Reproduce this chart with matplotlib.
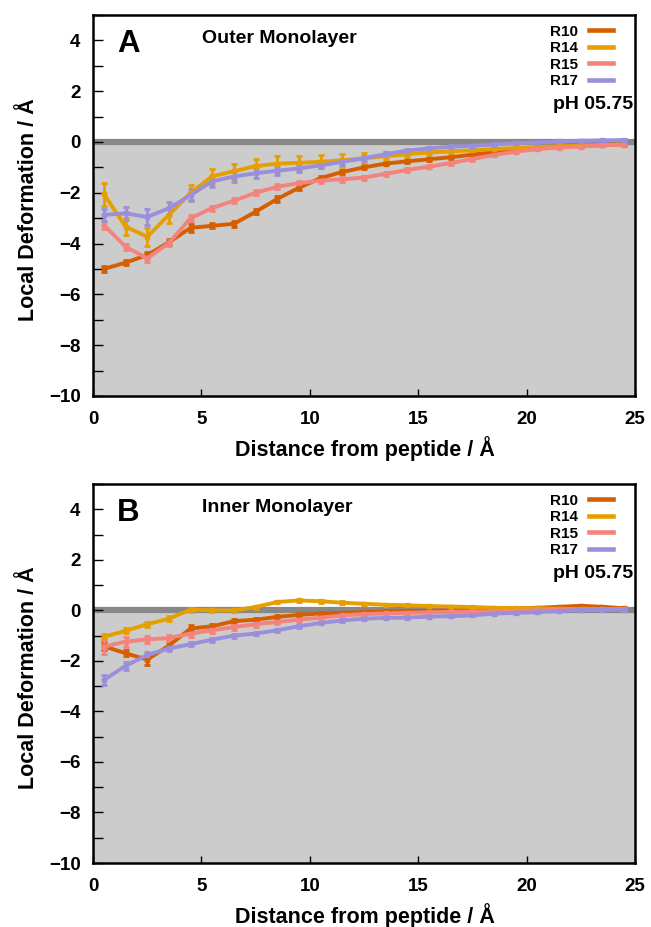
import numpy as np
import matplotlib
matplotlib.use("Agg")
import matplotlib.pyplot as plt
from matplotlib.ticker import MultipleLocator

plt.rcParams['font.family'] = ['Liberation Sans', 'DejaVu Sans']
plt.rcParams['font.weight'] = 'bold'

x = np.arange(0.5, 25.0, 1.0)
series_names = ["R10", "R14", "R15", "R17"]
colors = ["#d55e00", "#e69f00", "#f4837d", "#9b8fdb"]

# Panel A: outer monolayer
outer_R10 = [-5.0, -4.75, -4.45, -3.95, -3.38, -3.3, -3.22, -2.75, -2.24, -1.8, -1.42, -1.18, -1.0,
             -0.85, -0.76, -0.68, -0.6, -0.5, -0.4, -0.3, -0.22, -0.17, -0.14, -0.12, -0.09]
outer_R14 = [-2.05, -3.33, -3.73, -2.87, -2.0, -1.35, -1.15, -0.95, -0.85, -0.82, -0.78, -0.72, -0.64,
             -0.56, -0.48, -0.41, -0.37, -0.33, -0.28, -0.24, -0.2, -0.17, -0.14, -0.12, -0.1]
outer_R15 = [-3.27, -4.12, -4.58, -3.98, -3.0, -2.6, -2.31, -2.0, -1.76, -1.62, -1.52, -1.47, -1.4,
             -1.25, -1.1, -0.97, -0.83, -0.67, -0.51, -0.38, -0.28, -0.22, -0.18, -0.13, -0.1]
outer_R17 = [-2.87, -2.81, -2.95, -2.61, -2.09, -1.55, -1.36, -1.23, -1.13, -1.04, -0.92, -0.78, -0.64,
             -0.48, -0.34, -0.25, -0.19, -0.15, -0.1, -0.05, -0.02, 0.02, 0.05, 0.06, 0.08]
outer_err_R10 = [0.1, 0.1, 0.12, 0.12, 0.15, 0.1, 0.12, 0.1, 0.12, 0.1, 0.08, 0.08, 0.08,
                 0.06, 0.06, 0.05, 0.05, 0.05, 0.05, 0.04, 0.04, 0.04, 0.04, 0.04, 0.04]
outer_err_R14 = [0.45, 0.35, 0.35, 0.3, 0.3, 0.3, 0.3, 0.28, 0.28, 0.28, 0.25, 0.25, 0.2,
                 0.15, 0.12, 0.1, 0.1, 0.08, 0.08, 0.06, 0.06, 0.05, 0.05, 0.05, 0.05]
outer_err_R15 = [0.15, 0.12, 0.15, 0.12, 0.12, 0.1, 0.1, 0.1, 0.1, 0.1, 0.1, 0.1, 0.08,
                 0.08, 0.08, 0.06, 0.06, 0.06, 0.05, 0.05, 0.05, 0.04, 0.04, 0.04, 0.04]
outer_err_R17 = [0.25, 0.25, 0.3, 0.25, 0.25, 0.22, 0.2, 0.18, 0.15, 0.15, 0.12, 0.12, 0.1,
                 0.08, 0.08, 0.06, 0.06, 0.05, 0.05, 0.05, 0.04, 0.04, 0.04, 0.04, 0.04]

# Panel B: inner monolayer
inner_R10 = [-1.42, -1.7, -1.95, -1.4, -0.72, -0.63, -0.43, -0.37, -0.26, -0.18, -0.12, -0.1, -0.07,
             -0.05, -0.03, -0.02, 0.0, 0.02, 0.04, 0.07, 0.1, 0.14, 0.18, 0.14, 0.08]
inner_R14 = [-1.05, -0.81, -0.55, -0.33, 0.03, 0.0, 0.0, 0.13, 0.33, 0.39, 0.36, 0.3, 0.26,
             0.22, 0.2, 0.17, 0.15, 0.13, 0.1, 0.09, 0.08, 0.06, 0.05, 0.04, 0.03]
inner_R15 = [-1.44, -1.24, -1.15, -1.1, -0.92, -0.79, -0.66, -0.55, -0.46, -0.37, -0.29, -0.2, -0.15,
             -0.12, -0.1, -0.08, -0.06, -0.05, -0.03, -0.02, 0.0, 0.02, 0.03, 0.04, 0.05]
inner_R17 = [-2.76, -2.2, -1.77, -1.51, -1.34, -1.16, -1.0, -0.92, -0.79, -0.63, -0.5, -0.4, -0.33,
             -0.3, -0.29, -0.25, -0.23, -0.2, -0.13, -0.1, -0.07, -0.03, 0.02, 0.03, 0.03]
inner_err_R10 = [0.15, 0.12, 0.2, 0.15, 0.12, 0.1, 0.1, 0.08, 0.08, 0.06, 0.06, 0.05, 0.05,
                 0.05, 0.04, 0.04, 0.04, 0.04, 0.04, 0.04, 0.04, 0.04, 0.04, 0.04, 0.04]
inner_err_R14 = [0.12, 0.1, 0.1, 0.1, 0.08, 0.06, 0.06, 0.06, 0.05, 0.05, 0.05, 0.05, 0.04,
                 0.04, 0.04, 0.04, 0.04, 0.04, 0.04, 0.04, 0.04, 0.04, 0.04, 0.04, 0.04]
inner_err_R15 = [0.3, 0.2, 0.15, 0.12, 0.12, 0.1, 0.1, 0.1, 0.08, 0.08, 0.06, 0.06, 0.05,
                 0.05, 0.05, 0.05, 0.04, 0.04, 0.04, 0.04, 0.04, 0.04, 0.04, 0.04, 0.04]
inner_err_R17 = [0.2, 0.15, 0.12, 0.1, 0.08, 0.08, 0.08, 0.06, 0.06, 0.05, 0.05, 0.05, 0.05,
                 0.04, 0.04, 0.04, 0.04, 0.04, 0.04, 0.04, 0.04, 0.04, 0.04, 0.04, 0.04]

panels = [
    ("A", "Outer Monolayer", [outer_R10, outer_R14, outer_R15, outer_R17],
     [outer_err_R10, outer_err_R14, outer_err_R15, outer_err_R17]),
    ("B", "Inner Monolayer", [inner_R10, inner_R14, inner_R15, inner_R17],
     [inner_err_R10, inner_err_R14, inner_err_R15, inner_err_R17]),
]

fig = plt.figure(figsize=(6.51, 9.27), dpi=100)
W, H = 651, 927
rects = [(93, 15, 635, 396), (93, 484, 635, 863)]

for (letter, title, ys, errs), (l, t, r, b) in zip(panels, rects):
    ax = fig.add_axes([l / W, 1 - b / H, (r - l) / W, (b - t) / H])
    ax.set_xlim(0, 25)
    ax.set_ylim(-10, 5)
    ax.axhspan(-10, 0, color="#cccccc", zorder=0, lw=0)
    ax.axhline(0, color="#888888", lw=4.5, zorder=1)
    handles = []
    for name, c, yv, ev in zip(series_names, colors, ys, errs):
        ax.errorbar(x, yv, yerr=ev, color=c, lw=2.8, elinewidth=2.0, capsize=2.5,
                    capthick=2.0, marker='s', ms=3.5, zorder=3, clip_on=True)
        h, = ax.plot([], [], color=c, lw=3.3)
        handles.append(h)
    leg = ax.legend(handles, series_names, loc="upper right", frameon=False,
                    markerfirst=False, handlelength=1.55, handletextpad=0.75,
                    labelspacing=0.16, borderaxespad=0.0,
                    bbox_to_anchor=(1 - 16 / 542, 1 - 3.6 / 381),
                    prop={'weight': 'bold', 'size': 11})
    ax.text(0.9963, 0.7525, "pH 05.75", transform=ax.transAxes, ha="right", va="baseline",
            fontsize=14, fontweight="bold")
    ax.text(0.044, 0.903, letter, transform=ax.transAxes, ha="left", va="baseline",
            fontsize=22.5, fontweight="bold")
    ax.text(0.201, 0.9265, title, transform=ax.transAxes, ha="left", va="baseline",
            fontsize=14, fontweight="bold")
    ax.xaxis.set_major_locator(MultipleLocator(5))
    ax.yaxis.set_major_locator(MultipleLocator(2))
    ax.yaxis.set_minor_locator(MultipleLocator(1))
    ax.tick_params(axis='both', which='both', direction='in', labelsize=13.5, width=1)
    ax.tick_params(axis='y', which='both', length=7, pad=9)
    ax.tick_params(axis='x', which='major', length=5, pad=11)
    for lab in ax.get_xticklabels() + ax.get_yticklabels():
        lab.set_fontweight('bold')
    for s in ax.spines.values():
        s.set_linewidth(1.8)
        s.set_zorder(5)
    ax.set_xlabel("Distance from peptide / Å", fontsize=15.5, fontweight="bold")
    ax.set_ylabel("Local Deformation / Å", fontsize=15.5, fontweight="bold")
    ax.xaxis.set_label_coords(0.501, -0.105)
    ax.yaxis.set_label_coords(-0.1, 0.49)

fig.savefig("out.png", dpi=100)
